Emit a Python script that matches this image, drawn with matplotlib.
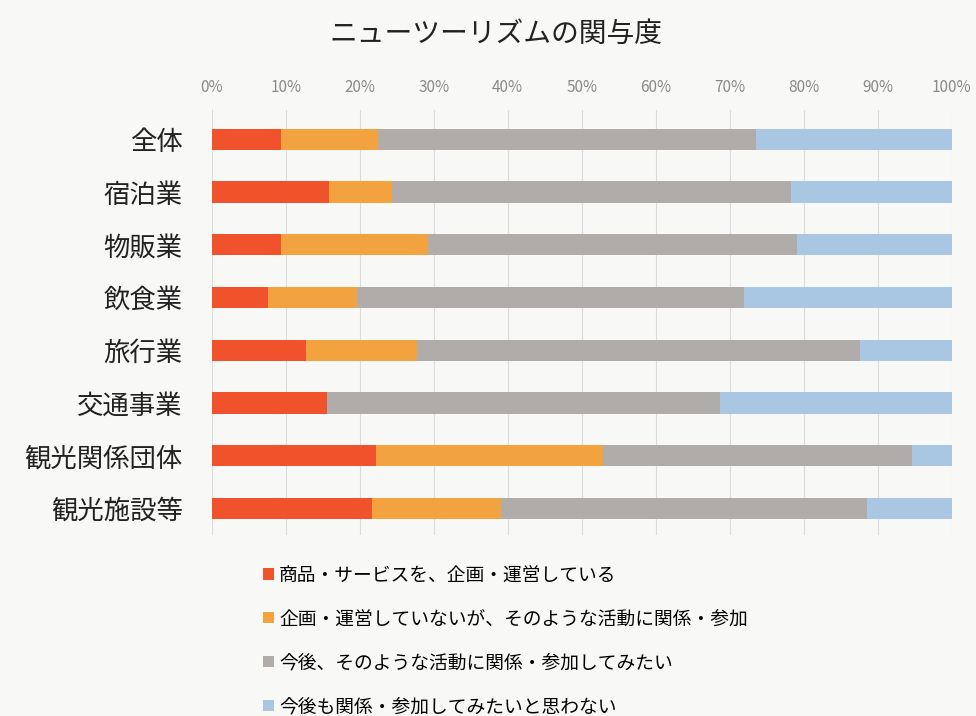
import matplotlib
matplotlib.use("Agg")
import matplotlib.pyplot as plt
import numpy as np

plt.rcParams["font.family"] = ["Noto Sans CJK JP", "DejaVu Sans"]

TITLE = "ニューツーリズムの関与度"
categories = ["全体", "宿泊業", "物販業", "飲食業", "旅行業", "交通事業", "観光関係団体", "観光施設等"]
series_names = [
    "商品・サービスを、企画・運営している",
    "企画・運営していないが、そのような活動に関係・参加",
    "今後、そのような活動に関係・参加してみたい",
    "今後も関係・参加してみたいと思わない",
]
# percent shares (each row sums to 100)
planning = [9.4, 15.8, 9.3, 7.6, 12.7, 15.6, 22.2, 21.6]
involved = [13.0, 8.5, 19.9, 12.0, 15.0, 0.0, 30.7, 17.5]
want = [51.2, 54.0, 49.9, 52.3, 59.9, 53.1, 41.8, 49.4]
no_interest = [26.4, 21.7, 20.9, 28.1, 12.4, 31.3, 5.3, 11.5]
tick_values = [0, 10, 20, 30, 40, 50, 60, 70, 80, 90, 100]

colors = ["#f0532c", "#f2a340", "#b0aca9", "#a9c6e2"]
bg = "#f8f8f7"

fig = plt.figure(figsize=(9.76, 7.16), dpi=100, facecolor=bg)
ax = fig.add_axes([0.217, 0.253, 0.758, 0.593], facecolor=bg)

y = np.arange(len(categories))
left = np.zeros(len(categories))
handles = []
for vals, name, c in zip([planning, involved, want, no_interest], series_names, colors):
    h = ax.barh(y, vals, left=left, height=0.4, color=c, label=name, zorder=2)
    handles.append(h)
    left += np.array(vals)

ax.set_xlim(0, 100)
ax.set_ylim(7.5, -0.55)
ax.xaxis.tick_top()
ax.set_xticks(tick_values)
ax.set_xticklabels([f"{v}%" for v in tick_values], color="#8a8a8a", fontsize=11)
ax.tick_params(axis="x", length=0, pad=10)
ax.set_yticks(y)
ax.set_yticklabels(categories, fontsize=19, color="#222222")
ax.tick_params(axis="y", length=0, pad=21)
ax.grid(axis="x", color="#dcdcdc", lw=0.8, zorder=0)
for s in ax.spines.values():
    s.set_visible(False)

fig.text(0.508, 0.953, TITLE, ha="center", va="center", fontsize=20, color="#222222")

fig.legend(handles=handles, labels=series_names, loc="upper left",
           bbox_to_anchor=(0.262, 0.222), frameon=False, fontsize=13.5,
           handlelength=0.55, handleheight=0.55, handletextpad=0.3,
           labelspacing=1.22, borderaxespad=0)

fig.savefig("out.png", dpi=100, facecolor=bg)
